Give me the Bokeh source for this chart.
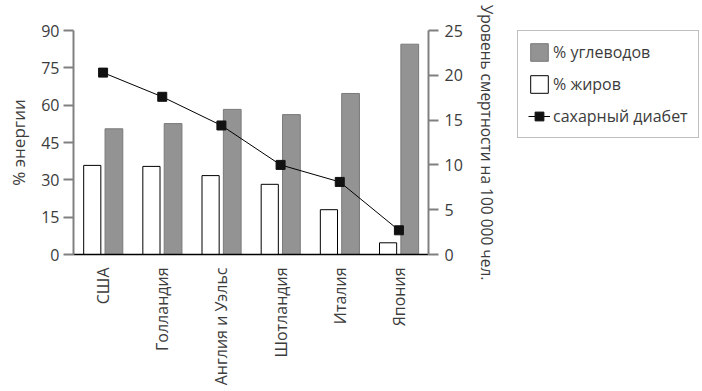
from bokeh.plotting import figure
from bokeh.models import (Range1d, LinearAxis, FixedTicker, FactorRange, Legend, LegendItem,
                          ColumnDataSource)
from bokeh.layouts import row
from bokeh.transform import dodge
from bokeh.embed import file_html
from bokeh.resources import INLINE
import math

countries = ["США", "Голландия", "Англия и Уэльс", "Шотландия", "Италия", "Япония"]
fat = [35.8, 35.4, 31.7, 28.2, 18.0, 4.7]
carbs = [50.5, 52.6, 58.3, 56.2, 64.7, 84.5]
diabetes = [20.3, 17.6, 14.4, 10.0, 8.1, 2.7]
left_ticks = [0, 15, 30, 45, 60, 75, 90]
right_ticks = [0, 5, 10, 15, 20, 25]
legend_labels = ["% углеводов", "% жиров", "сахарный диабет"]

FONT = "Open Sans"
TXT = "#3c3c3c"
AX = "#808080"
GREY_FILL = "#939393"
GREY_LINE = "#7a7a7a"

p = figure(x_range=FactorRange(*countries, range_padding=0), y_range=Range1d(0, 90),
           width=500, height=391, output_backend="svg", toolbar_location=None,
           min_border_left=73, min_border_right=66, min_border_top=30, min_border_bottom=137)
p.extra_y_ranges = {"right": Range1d(0, 25)}
p.outline_line_color = None
p.xgrid.grid_line_color = None
p.ygrid.grid_line_color = None

source = ColumnDataSource(dict(c=countries, fat=fat, carbs=carbs, d=diabetes))

p.vbar(x=dodge("c", 0.183, range=p.x_range), top="carbs", width=0.30, source=source,
       fill_color=GREY_FILL, line_color=GREY_LINE, line_width=1)
p.vbar(x=dodge("c", -0.183, range=p.x_range), top="fat", width=0.29, source=source,
       fill_color="white", line_color="black", line_width=1)
p.line(x="c", y="d", source=source, y_range_name="right", line_color="black", line_width=1)
p.scatter(x="c", y="d", source=source, y_range_name="right", marker="square", size=9,
          fill_color="#111111", line_color="#111111")


def style_y(ax):
    ax.axis_line_color = AX
    ax.axis_line_width = 2
    ax.major_tick_line_color = AX
    ax.major_tick_line_width = 2
    ax.major_tick_out = 10
    ax.major_tick_in = 0
    ax.minor_tick_line_color = None
    ax.major_label_text_font = FONT
    ax.major_label_text_font_size = "16px"
    ax.major_label_text_color = TXT
    ax.major_label_standoff = 4
    ax.axis_label_text_font = FONT
    ax.axis_label_text_font_size = "17px"
    ax.axis_label_text_font_style = "normal"
    ax.axis_label_text_color = TXT
    ax.axis_label_standoff = 8


ya = p.yaxis[0]
ya.ticker = FixedTicker(ticks=left_ticks)
ya.axis_label = "% энергии"
style_y(ya)

ra = LinearAxis(y_range_name="right", ticker=FixedTicker(ticks=right_ticks),
                axis_label="Уровень смертности на 100 000 чел.")
style_y(ra)
ra.major_label_standoff = 6
ra.axis_label_standoff = 10
ra.axis_label_text_font_size = "15.5px"
p.add_layout(ra, "right")

xa = p.xaxis[0]
xa.axis_line_color = "black"
xa.axis_line_width = 1.5
xa.major_tick_line_color = None
xa.minor_tick_line_color = None
xa.major_label_orientation = math.pi / 2
xa.major_label_text_font = FONT
xa.major_label_text_font_size = "16px"
xa.major_label_text_color = TXT
xa.major_label_standoff = 7

# separate legend panel (proxy glyphs carry no drawable data)
lf = figure(width=202, height=391, x_range=Range1d(0, 1), y_range=Range1d(0, 1),
            output_backend="svg", toolbar_location=None,
            x_axis_location=None, y_axis_location=None,
            min_border_left=17, min_border_right=0, min_border_top=27, min_border_bottom=0)
lf.outline_line_color = None
lf.xgrid.grid_line_color = None
lf.ygrid.grid_line_color = None
nan = float("nan")
proxy = ColumnDataSource(dict(x=[nan], y=[nan]))
g1 = lf.vbar(x="x", top="y", width=0.1, source=proxy, fill_color=GREY_FILL, line_color=GREY_LINE)
g2 = lf.vbar(x="x", top="y", width=0.1, source=proxy, fill_color="white", line_color="black")
g3 = lf.line(x="x", y="y", source=proxy, line_color="black", line_width=1)
g4 = lf.scatter(x="x", y="y", source=proxy, marker="square", size=8,
                fill_color="#111111", line_color="#111111")

legend = Legend(items=[
    LegendItem(label=legend_labels[0], renderers=[g1], index=0),
    LegendItem(label=legend_labels[1], renderers=[g2], index=0),
    LegendItem(label=legend_labels[2], renderers=[g3, g4], index=0),
], location="top_left")
legend.border_line_color = "#7f7f7f"
legend.border_line_width = 1.5
legend.padding = 10
legend.margin = 0
legend.spacing = 10
legend.glyph_width = 22
legend.glyph_height = 22
legend.label_height = 22
legend.label_standoff = 3
legend.label_text_font = FONT
legend.label_text_font_size = "16px"
legend.label_text_color = TXT
lf.add_layout(legend, "center")

layout = row(p, lf, spacing=0)
open("out.html", "w").write(file_html(layout, INLINE))
